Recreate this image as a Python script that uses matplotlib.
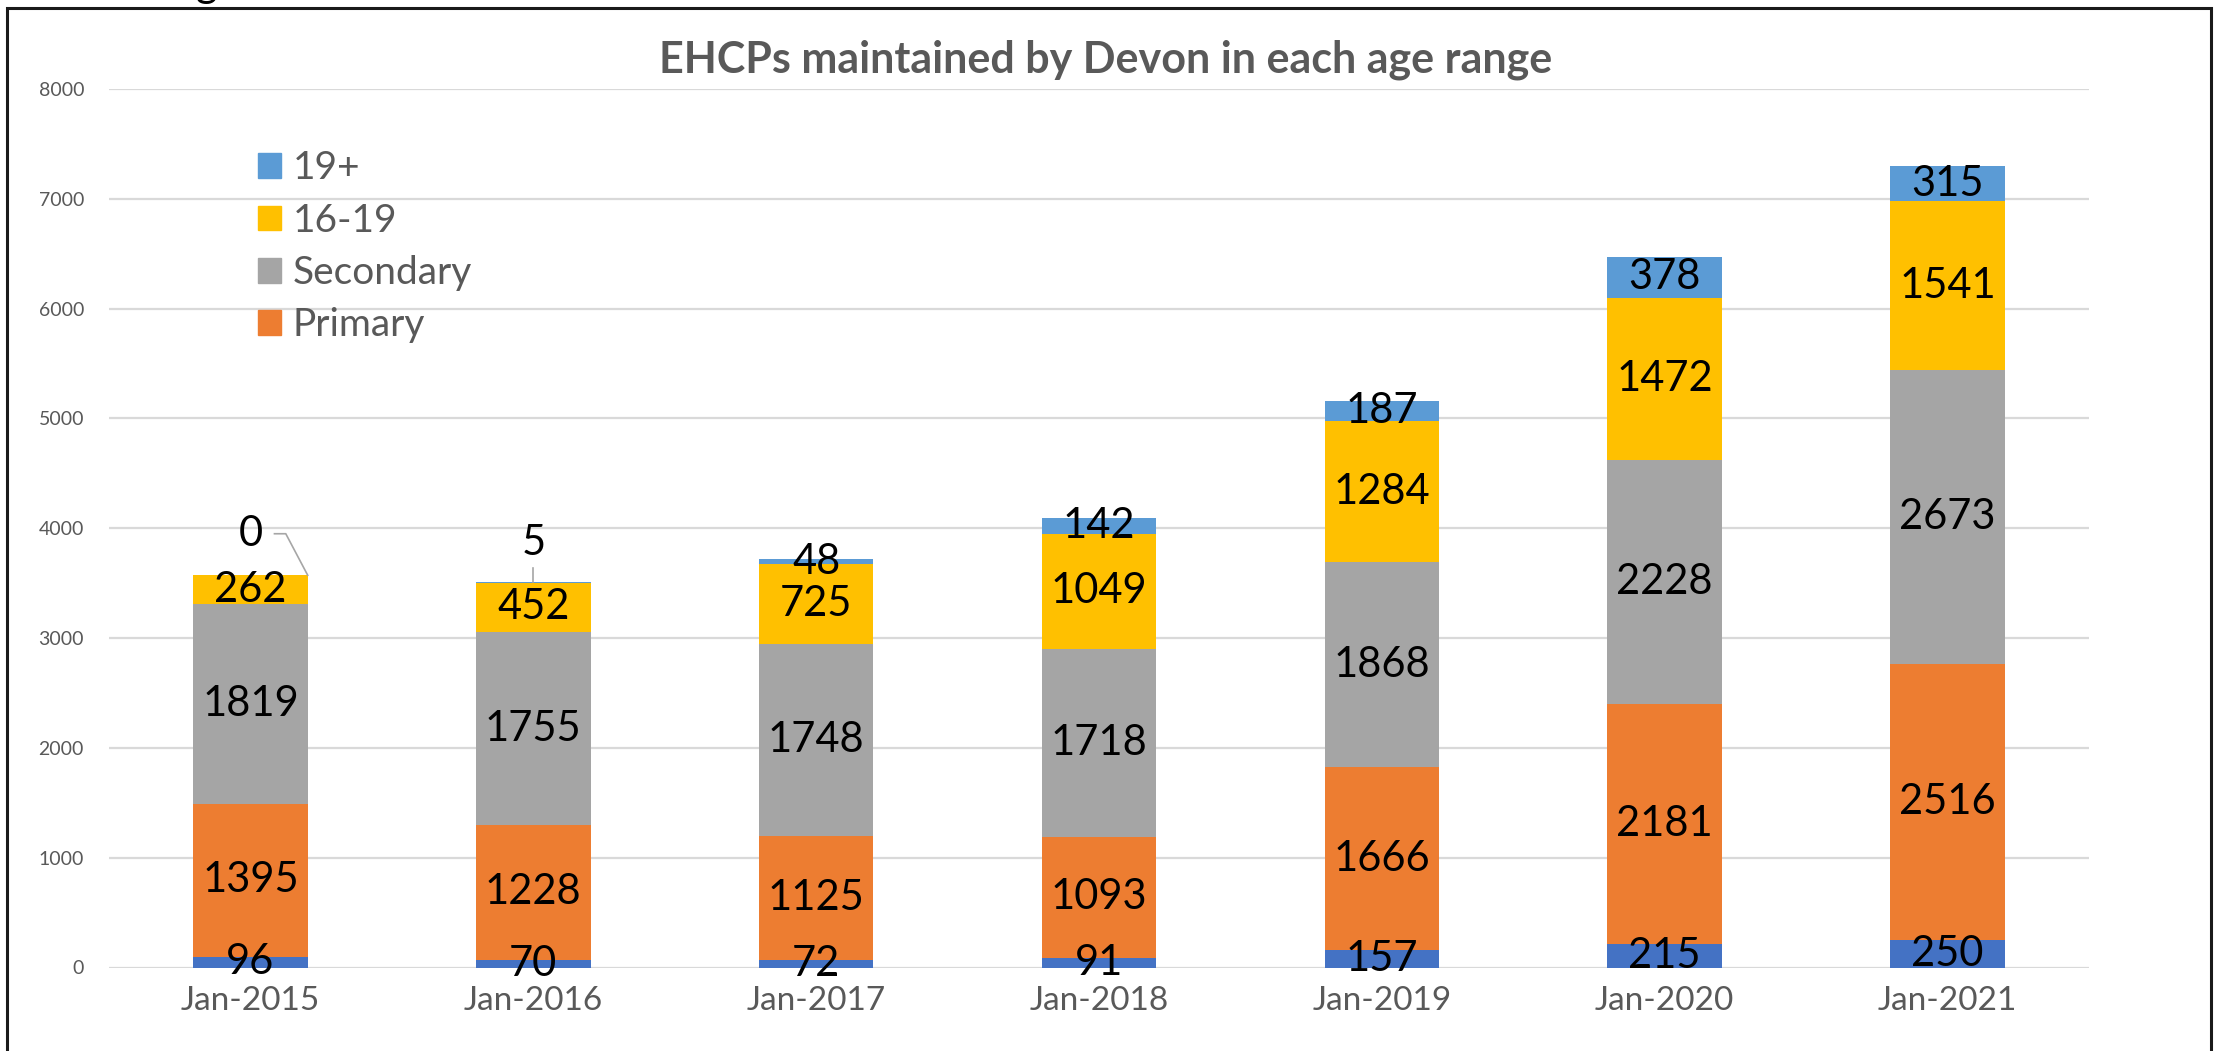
import matplotlib
matplotlib.use("Agg")
import matplotlib.pyplot as plt
from matplotlib.patches import Patch, Rectangle
import numpy as np

plt.rcParams['font.family'] = ['Lato', 'DejaVu Sans']

# data
dates = ["Jan-2015", "Jan-2016", "Jan-2017", "Jan-2018", "Jan-2019", "Jan-2020", "Jan-2021"]
early_years = [96, 70, 72, 91, 157, 215, 250]
primary = [1395, 1228, 1125, 1093, 1666, 2181, 2516]
secondary = [1819, 1755, 1748, 1718, 1868, 2228, 2673]
age_16_19 = [262, 452, 725, 1049, 1284, 1472, 1541]
age_19_plus = [0, 5, 48, 142, 187, 378, 315]

series = [
    ("Early years", early_years, "#4472C4"),
    ("Primary", primary, "#ED7D31"),
    ("Secondary", secondary, "#A5A5A5"),
    ("16-19", age_16_19, "#FFC000"),
    ("19+", age_19_plus, "#5B9BD5"),
]

W, H = 2218, 1051
fig = plt.figure(figsize=(W / 100, H / 100), dpi=100)
ax = fig.add_axes([109 / W, 1 - 967.5 / H, 1980 / W, 878.5 / H])

lbl_size = 30
x = np.arange(len(dates))
bar_w = 0.405
bottom = np.zeros(len(dates))
for name, vals, col in series:
    vals = np.array(vals, dtype=float)
    ax.bar(x, vals, bar_w, bottom=bottom, color=col, zorder=2)
    for i, v in enumerate(vals):
        # tiny top segments in the first two bars get labels above with a leader line
        if name == "19+" and v < 20:
            continue
        ax.text(x[i], bottom[i] + v / 2, f"{int(v)}", ha="center", va="center",
                fontsize=lbl_size, color="black", zorder=4)
    bottom += vals

totals = bottom
# labels with leader lines for the near-zero 19+ values
ax.text(x[0], 3950, f"{age_19_plus[0]}", ha="center", va="center", fontsize=lbl_size, zorder=4)
ax.plot([x[0] + 0.085, x[0] + 0.125, x[0] + bar_w / 2], [3950, 3950, totals[0]],
        color="#a6a6a6", lw=1.2, zorder=3)
ax.text(x[1], 3868, f"{age_19_plus[1]}", ha="center", va="center", fontsize=lbl_size, zorder=4)
ax.plot([x[1], x[1]], [3640, totals[1]], color="#a6a6a6", lw=1.2, zorder=3)

ax.set_xlim(-0.5, 6.5)
ax.set_ylim(0, 8000)
ax.set_yticks(np.arange(0, 8001, 1000))
ax.yaxis.grid(True, color="#d9d9d9", lw=1.6, zorder=0)
ax.set_axisbelow(True)
for s in ax.spines.values():
    s.set_visible(False)
ax.tick_params(length=0)
ax.tick_params(axis="y", labelsize=14, labelcolor="#595959", pad=18)
ax.set_xticks(x)
ax.set_xticklabels(dates, fontsize=24, color="#595959")
ax.tick_params(axis="x", pad=13)

fig.text(1106 / W, 1 - 60 / H, "EHCPs maintained by Devon in each age range",
         ha="center", va="center", fontsize=31, fontweight="bold", color="#595959")

handles = [Patch(color=c, label=n) for n, _, c in series[::-1][:4]]
leg = ax.legend(handles=handles, loc="upper left", bbox_to_anchor=(0.075, 0.93),
                frameon=False, fontsize=28, borderpad=0, borderaxespad=0,
                handlelength=0.6, handleheight=0.6, handletextpad=0.3,
                labelspacing=0.42)
for t in leg.get_texts():
    t.set_color("#595959")

# outer border (bottom edge runs off the picture)
fig.patches.append(Rectangle((7 / W, -0.05), (W - 14) / W, 1.05 - 8 / H,
                             transform=fig.transFigure, fill=False,
                             edgecolor="#1a1a1a", lw=2.2, clip_on=False))
# clipped heading above the border, as in the reference
fig.text(196 / W, 1 + 3 / H, "g", ha="left", va="baseline", fontsize=30, color="black")

fig.savefig("out.png", dpi=100)
